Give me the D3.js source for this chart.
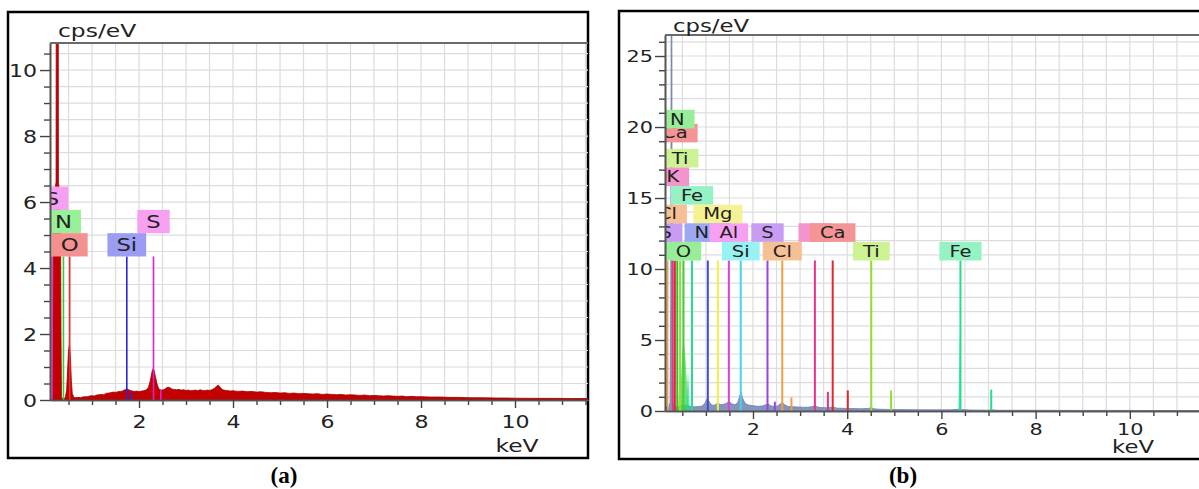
<!DOCTYPE html>
<html>
<head>
<meta charset="utf-8">
<script src="https://cdn.jsdelivr.net/npm/d3@7"></script>
<style>
  body { margin: 0; background: #fff; }
  svg { display: block; }
</style>
</head>
<body>
<div id="chart"></div>
<script>
// ---- data ----

// (a) spectrum, [keV, cps/eV]
const spectrumA = [
  [0.11,0],[0.16,0],[0.17,2],[0.18,5.5],[0.19,6.2],[0.235,6.6],[0.25,30],[0.27,30],[0.285,6.6],[0.32,6.2],
  [0.33,5.5],[0.34,2],[0.35,0.1],[0.37,0.04],[0.40,0.05],[0.43,0.06],[0.46,0.3],[0.48,0.9],[0.50,1.5],
  [0.52,1.68],[0.54,1.3],[0.56,0.6],[0.58,0.2],[0.61,0.08],[0.65,0.07],[0.70,0.08],[0.75,0.07],[0.80,0.09],
  [0.85,0.10],[0.90,0.10],[0.95,0.12],[1.00,0.13],[1.05,0.12],[1.10,0.15],[1.15,0.16],[1.20,0.17],[1.25,0.16],
  [1.30,0.20],[1.35,0.21],[1.40,0.22],[1.45,0.24],[1.50,0.23],[1.55,0.25],[1.60,0.26],[1.65,0.27],[1.70,0.31],
  [1.74,0.34],[1.78,0.31],[1.82,0.29],[1.86,0.27],[1.90,0.26],[1.95,0.27],[2.00,0.25],[2.05,0.27],[2.10,0.28],
  [2.15,0.30],[2.20,0.38],[2.24,0.58],[2.28,0.88],[2.30,0.95],[2.32,0.90],[2.35,0.70],[2.39,0.45],[2.43,0.32],
  [2.48,0.30],[2.53,0.31],[2.58,0.36],[2.62,0.39],[2.66,0.37],[2.70,0.33],[2.75,0.32],[2.80,0.31],[2.85,0.32],
  [2.90,0.30],[2.95,0.31],[3.00,0.29],[3.05,0.30],[3.10,0.28],[3.15,0.29],[3.20,0.30],[3.25,0.28],[3.30,0.31],
  [3.35,0.29],[3.40,0.28],[3.45,0.30],[3.50,0.29],[3.55,0.31],[3.60,0.35],[3.65,0.42],[3.69,0.45],[3.73,0.38],
  [3.78,0.31],[3.85,0.29],[3.90,0.28],[3.95,0.27],[4.00,0.28],[4.10,0.26],[4.20,0.27],[4.30,0.25],[4.40,0.26],
  [4.50,0.24],[4.60,0.25],[4.70,0.23],[4.80,0.22],[4.90,0.23],[5.00,0.21],[5.10,0.22],[5.20,0.20],[5.30,0.21],
  [5.40,0.19],[5.50,0.20],[5.60,0.19],[5.70,0.18],[5.80,0.19],[5.90,0.17],[6.00,0.18],[6.10,0.17],[6.20,0.16],
  [6.30,0.17],[6.40,0.15],[6.50,0.16],[6.60,0.15],[6.70,0.14],[6.80,0.15],[6.90,0.13],[7.00,0.14],[7.10,0.13],
  [7.20,0.12],[7.30,0.13],[7.40,0.12],[7.50,0.11],[7.60,0.12],[7.70,0.10],[7.80,0.11],[7.90,0.10],[8.00,0.10],
  [8.20,0.09],[8.40,0.09],[8.60,0.08],[8.80,0.08],[9.00,0.07],[9.20,0.07],[9.40,0.065],[9.60,0.06],[9.80,0.06],
  [10.0,0.055],[10.4,0.05],[10.8,0.05],[11.2,0.045],[11.6,0.045]
];

// (a) element lines and labels
const linesA = [
  { el: "S",  keV: 0.149, h: 4.35 },
  { el: "N",  keV: 0.392, h: 4.35 },
  { el: "O",  keV: 0.525, h: 4.35 },
  { el: "Si", keV: 1.740, h: 4.35 },
  { el: "S",  keV: 2.308, h: 4.35 },
  { el: "Si", keV: 1.836, h: 0.25 },
  { el: "S",  keV: 2.464, h: 0.30 }
];
const labelsA = [
  { el: "S",  keV: 0.149, row: 2 },
  { el: "N",  keV: 0.392, row: 1 },
  { el: "S",  keV: 2.308, row: 1 },
  { el: "O",  keV: 0.525, row: 0 },
  { el: "Si", keV: 1.740, row: 0 }
];

// (b) spectrum, [keV, cps/eV]
const spectrumB = [
  [0.13,0],[0.20,0.1],[0.24,0.6],[0.255,8],[0.265,34],[0.275,34],[0.285,8],[0.30,0.6],[0.33,0.3],[0.38,0.3],
  [0.45,0.35],[0.55,0.4],[0.65,0.35],[0.75,0.3],[0.85,0.32],[0.92,0.35],[0.98,0.55],[1.03,0.9],[1.08,0.6],
  [1.13,0.4],[1.19,0.42],[1.25,0.55],[1.31,0.45],[1.38,0.48],[1.44,0.55],[1.49,0.68],[1.55,0.5],[1.62,0.45],
  [1.68,0.6],[1.72,1.1],[1.75,1.3],[1.78,0.9],[1.83,0.55],[1.90,0.42],[1.98,0.38],[2.05,0.35],[2.12,0.33],
  [2.20,0.36],[2.28,0.45],[2.32,0.5],[2.38,0.36],[2.45,0.32],[2.52,0.35],[2.58,0.5],[2.62,0.6],[2.67,0.45],
  [2.74,0.32],[2.85,0.3],[2.95,0.28],[3.05,0.27],[3.15,0.26],[3.25,0.3],[3.31,0.38],[3.37,0.28],[3.45,0.24],
  [3.55,0.23],[3.65,0.26],[3.70,0.28],[3.78,0.2],[3.90,0.19],[4.00,0.18],[4.15,0.17],[4.30,0.16],[4.45,0.18],
  [4.51,0.24],[4.57,0.15],[4.70,0.12],[4.90,0.11],[5.10,0.1],[5.40,0.09],[5.80,0.08],[6.20,0.08],[6.35,0.12],
  [6.45,0.1],[6.60,0.07],[7.00,0.06],[7.06,0.09],[7.20,0.05],[8.00,0.05],[9.00,0.04],[10.0,0.04],[11.0,0.03],
  [11.6,0.03]
];

// (b) coloured element peak fills
const peaksB = [
  { el: "Ti", pts: [[0.41,0],[0.45,3.5],[0.49,0]] },
  { el: "O",  pts: [[0.44,0],[0.50,4.2],[0.53,5.0],[0.56,4.0],[0.63,0]] },
  { el: "Fe", pts: [[0.58,0],[0.62,3.0],[0.66,0]] },
  { el: "Fe", pts: [[6.36,0],[6.39,5.35],[6.42,0]] }
];

// (b) element lines and labels
const linesB = [
  { el: "Cl", keV: 0.183, h: 10.6 },
  { el: "S",  keV: 0.149, h: 0.35 },
  { el: "K",  keV: 0.297, h: 10.6 },
  { el: "Ca", keV: 0.341, h: 10.6 },
  { el: "N",  keV: 0.392, h: 10.6 },
  { el: "Ti", keV: 0.452, h: 10.6 },
  { el: "O",  keV: 0.525, h: 10.6 },
  { el: "Fe", keV: 0.705, h: 10.6 },
  { el: "Na", keV: 1.041, h: 10.6 },
  { el: "Mg", keV: 1.254, h: 10.6 },
  { el: "Al", keV: 1.487, h: 10.6 },
  { el: "Si", keV: 1.740, h: 10.6 },
  { el: "S",  keV: 2.308, h: 10.6 },
  { el: "S",  keV: 2.464, h: 0.65 },
  { el: "Cl", keV: 2.622, h: 10.6 },
  { el: "Cl", keV: 2.816, h: 0.95 },
  { el: "K",  keV: 3.314, h: 10.6 },
  { el: "K",  keV: 3.590, h: 1.35 },
  { el: "Ca", keV: 3.692, h: 10.6 },
  { el: "Ca", keV: 4.013, h: 1.45 },
  { el: "Ti", keV: 4.511, h: 10.6 },
  { el: "Ti", keV: 4.932, h: 1.45 },
  { el: "Fe", keV: 6.404, h: 10.6 },
  { el: "Fe", keV: 7.058, h: 1.5 }
];
const labelsB = [
  { el: "Ca", keV: 0.341, row: 6.35 },
  { el: "N",  keV: 0.392, row: 7.1 },
  { el: "Ti", keV: 0.452, row: 5 },
  { el: "K",  keV: 0.297, row: 4 },
  { el: "Fe", keV: 0.705, row: 3 },
  { el: "Cl", keV: 0.183, row: 2 },
  { el: "Mg", keV: 1.254, row: 2 },
  { el: "S",  keV: 0.149, row: 1 },
  { el: "Na", keV: 1.041, row: 1 },
  { el: "Al", keV: 1.487, row: 1 },
  { el: "S",  keV: 2.308, row: 1 },
  { el: "K",  keV: 3.314, row: 1 },
  { el: "Ca", keV: 3.692, row: 1 },
  { el: "O",  keV: 0.525, row: 0 },
  { el: "Si", keV: 1.740, row: 0 },
  { el: "Cl", keV: 2.622, row: 0 },
  { el: "Ti", keV: 4.511, row: 0 },
  { el: "Fe", keV: 6.404, row: 0 }
];

// axis ticks
const xMajor = [2, 4, 6, 8, 10];
const yMajorA = [0, 2, 4, 6, 8, 10];
const yMajorB = [0, 5, 10, 15, 20, 25];

// ---- styles ----
const FONT = "'DejaVu Sans', Verdana, sans-serif";
const SX = 1.3; // source figure is stretched horizontally

const lineColA = { S: "#e020d0", N: "#30d030", O: "#e03030", Si: "#2828d8" };
const boxColA  = { S: "#f7a0f2", N: "#98f098", O: "#f49090", Si: "#9c9cf2" };
const lineColB = {
  Cl: "#f0a040", S: "#a040e0", K: "#e8308c", Ca: "#e02828", N: "#30c030", Ti: "#90e030",
  O: "#40d040", Fe: "#20e090", Na: "#4848d0", Mg: "#f0f040", Al: "#e040d8", Si: "#40d8e8"
};
const boxColB = {
  Cl: "#f7bf94", S: "#c89cf2", K: "#f494cc", Ca: "#f49494", N: "#98ee98", Ti: "#ccf294",
  O: "#98ee98", Fe: "#94f2c4", Na: "#9ca8f2", Mg: "#f5f294", Al: "#f5a0f2", Si: "#98f2f4"
};

const W = 1199, H = 489;
const svg = d3.select("#chart").append("svg")
  .attr("width", W).attr("height", H)
  .attr("viewBox", `0 0 ${W} ${H}`);
svg.append("rect").attr("width", W).attr("height", H).attr("fill", "#fff");

function stext(sel, x, y, str, size, anchor) {
  return sel.append("text")
    .attr("transform", `translate(${x},${y}) scale(${SX},1)`)
    .attr("text-anchor", anchor || "start")
    .attr("font-family", FONT)
    .attr("font-size", size)
    .attr("fill", "#222")
    .text(str);
}

function drawPanel(p) {
  svg.append("rect")
    .attr("x", p.frame[0]).attr("y", p.frame[1])
    .attr("width", p.frame[2]).attr("height", p.frame[3])
    .attr("fill", "none").attr("stroke", "#000").attr("stroke-width", 2.5);

  const x = d3.scaleLinear().domain(p.xDomain).range([p.left, p.right]);
  const y = d3.scaleLinear().domain(p.yDomain).range([p.bottom, p.top]);
  const g = svg.append("g");
  const clipId = "clip-" + p.id;
  g.append("clipPath").attr("id", clipId).append("rect")
    .attr("x", p.left).attr("y", p.top)
    .attr("width", p.right - p.left).attr("height", p.bottom - p.top);

  // grid
  const xGrid = d3.range(0.5, 12, 0.5);
  const yGrid = d3.range(p.yGridStep, p.yDomain[1], p.yGridStep);
  const grid = g.append("g").attr("clip-path", `url(#${clipId})`)
    .attr("stroke", "#dcdcdc").attr("stroke-width", 1.2);
  grid.selectAll("line.v").data(xGrid).join("line").attr("class", "v")
    .attr("x1", d => x(d)).attr("x2", d => x(d)).attr("y1", p.top).attr("y2", p.bottom);
  grid.selectAll("line.h").data(yGrid).join("line").attr("class", "h")
    .attr("y1", d => y(d)).attr("y2", d => y(d)).attr("x1", p.left).attr("x2", p.right);

  const plot = g.append("g").attr("clip-path", `url(#${clipId})`);
  const area = d3.area().x(d => x(d[0])).y0(y(0)).y1(d => y(d[1]));

  plot.append("path").datum(p.spectrum)
    .attr("d", area).attr("fill", p.specColor)
    .attr("stroke", p.specStroke).attr("stroke-width", 0.8);

  plot.selectAll("path.peak").data(p.peaks || []).join("path").attr("class", "peak")
    .attr("d", d => area(d.pts)).attr("fill", d => p.lineCol[d.el]).attr("fill-opacity", 0.7);

  plot.selectAll("line.el").data(p.lines).join("line").attr("class", "el")
    .attr("x1", d => x(d.keV)).attr("x2", d => x(d.keV))
    .attr("y1", y(0)).attr("y2", d => y(d.h))
    .attr("stroke", d => p.lineCol[d.el]).attr("stroke-width", p.lineWidth);

  // element labels stacked above the line tops
  const base = y(p.labelBase);
  p.labels.forEach(d => {
    const lg = plot.append("g");
    const cx = x(d.keV);
    const bottom = base - d.row * p.rowH;
    const rect = lg.append("rect").attr("fill", p.boxCol[d.el]);
    const t = stext(lg, cx, bottom - p.rowH / 2 + p.labelSize * 0.36, d.el, p.labelSize, "middle");
    const w = t.node().getComputedTextLength() * SX + 2 * p.labelPad;
    rect.attr("x", cx - w / 2).attr("y", bottom - p.rowH).attr("width", w).attr("height", p.rowH);
  });

  // axes
  const yMinor = d3.range(p.yMinorStep, p.yDomain[1], p.yMinorStep).filter(v => !p.yMajor.includes(v));
  const xMinor = d3.range(0.5, p.xDomain[1], 0.5).filter(v => !xMajor.includes(v) && v > p.xDomain[0]);

  const styleAxis = sel => {
    sel.select(".domain").attr("stroke", "#555").attr("stroke-width", 1.6);
    sel.selectAll(".tick line").attr("stroke", "#444").attr("stroke-width", 1.4);
  };

  g.append("g").attr("transform", `translate(${p.left},0)`)
    .call(d3.axisLeft(y).tickValues(yMinor).tickSize(6).tickSizeOuter(0).tickFormat(""))
    .call(styleAxis);
  const yAx = g.append("g").attr("transform", `translate(${p.left},0)`)
    .call(d3.axisLeft(y).tickValues(p.yMajor).tickSize(10).tickSizeOuter(0))
    .call(styleAxis);
  yAx.selectAll(".tick text")
    .attr("transform", `scale(${SX},1)`).attr("x", -p.yLabelGap / SX).attr("dy", "0.36em")
    .attr("font-family", FONT).attr("font-size", p.tickSize).attr("fill", "#222");

  g.append("g").attr("transform", `translate(0,${p.bottom})`)
    .call(d3.axisBottom(x).tickValues(xMinor).tickSize(5).tickSizeOuter(0).tickFormat(""))
    .call(styleAxis);
  const xAx = g.append("g").attr("transform", `translate(0,${p.bottom})`)
    .call(d3.axisBottom(x).tickValues(xMajor).tickSize(8).tickSizeOuter(0))
    .call(styleAxis);
  xAx.selectAll(".tick text")
    .attr("transform", `scale(${SX},1)`).attr("y", p.xLabelGap).attr("dy", 0)
    .attr("font-family", FONT).attr("font-size", p.tickSize).attr("fill", "#222");

  // top border of the plot
  g.append("line").attr("x1", p.left).attr("x2", p.right).attr("y1", p.top).attr("y2", p.top)
    .attr("stroke", "#6a6a6a").attr("stroke-width", 2);

  stext(svg, p.yTitle[0], p.yTitle[1], "cps/eV", p.titleSize);
  stext(svg, p.xTitle[0], p.xTitle[1], "keV", p.titleSize, "middle");

  svg.append("text").attr("x", p.tag[0]).attr("y", p.tag[1])
    .attr("text-anchor", "middle")
    .attr("font-family", "'Liberation Serif', 'Times New Roman', serif")
    .attr("font-weight", "bold").attr("font-size", 23).attr("fill", "#000")
    .text(p.tagText);
}

drawPanel({
  id: "a", frame: [8, 12, 580, 446],
  left: 50, right: 588, top: 43, bottom: 400,
  xDomain: [0.106, 11.553], yDomain: [0, 10.82],
  yMajor: yMajorA, yMinorStep: 0.5, yGridStep: 0.5,
  spectrum: spectrumA, specColor: "#c20000", specStroke: "#a00000",
  lines: linesA, labels: labelsA, lineCol: lineColA, boxCol: boxColA,
  lineWidth: 1.6, labelBase: 4.35, rowH: 23.3, labelSize: 17.5, labelPad: 9,
  tickSize: 17, yLabelGap: 13, xLabelGap: 28, titleSize: 18,
  yTitle: [58, 36.5], xTitle: [517, 452], tag: [284, 483], tagText: "(a)"
});

drawPanel({
  id: "b", frame: [619, 11, 600, 448],
  left: 665, right: 1200, top: 35, bottom: 411,
  xDomain: [0.132, 11.49], yDomain: [0, 26.48],
  yMajor: yMajorB, yMinorStep: 1, yGridStep: 1,
  spectrum: spectrumB, specColor: "#8494bc", specStroke: "#7080a8",
  peaks: peaksB,
  lines: linesB, labels: labelsB, lineCol: lineColB, boxCol: boxColB,
  lineWidth: 2, labelBase: 10.6, rowH: 18.6, labelSize: 15, labelPad: 10,
  tickSize: 16, yLabelGap: 12, xLabelGap: 24, titleSize: 17.5,
  yTitle: [673, 31.5], xTitle: [1133, 453], tag: [903, 483], tagText: "(b)"
});
</script>
</body>
</html>
